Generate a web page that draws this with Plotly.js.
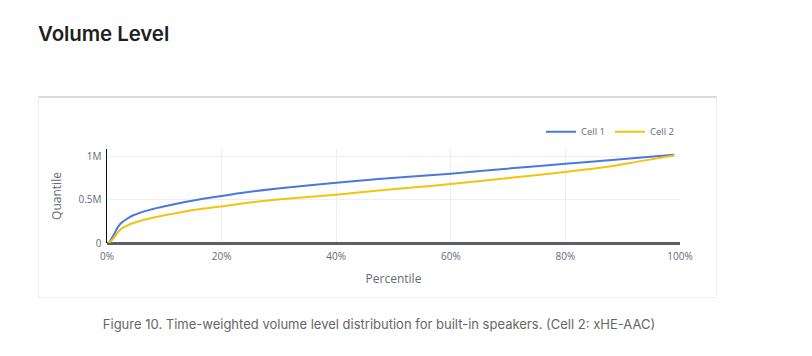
<!DOCTYPE html>
<html>
<head>
<meta charset="utf-8">
<script src="https://cdn.plot.ly/plotly-3.0.1.min.js"></script>
<style>
  html, body { margin: 0; padding: 0; background: #fff; }
  body { width: 812px; height: 356px; position: relative; overflow: hidden; font-family: Inter, "Noto Sans", sans-serif; }
  h2 { position: absolute; left: 38px; top: 21px; margin: 0; font-size: 20.5px; font-weight: 600; color: #1f1f1f; letter-spacing: -0.1px; }
  #box { position: absolute; left: 38px; top: 96px; width: 679px; height: 202px; border: 1px solid #efefef; border-top: 2px solid #dcdcdc; box-sizing: border-box; }
  #chart { position: absolute; left: 0; top: 0; width: 677px; height: 199px; }
  #cap { position: absolute; left: 38px; width: 682px; top: 316px; text-align: center; font-size: 13px; color: #666; }
</style>
</head>
<body>
<h2>Volume Level</h2>
<div id="box"><div id="chart"></div></div>
<div id="cap">Figure 10. Time-weighted volume level distribution for built-in speakers. (Cell 2: xHE-AAC)</div>
<script>
const percentile1 = [0.003, 0.012, 0.018, 0.023, 0.035, 0.046, 0.076, 0.105, 0.134, 0.163, 0.197, 0.24, 0.298, 0.40, 0.474, 0.533, 0.60, 0.698, 0.80, 0.902, 0.99];
const cell1 = [0, 96000, 173000, 220000, 280000, 320000, 385000, 430000, 470000, 505000, 540000, 583000, 630000, 695000, 740000, 768000, 800000, 858000, 915000, 970000, 1020000];
const percentile2 = [0.003, 0.012, 0.018, 0.023, 0.035, 0.046, 0.076, 0.105, 0.134, 0.163, 0.197, 0.24, 0.298, 0.40, 0.474, 0.533, 0.60, 0.698, 0.80, 0.873, 0.931, 0.99];
const cell2 = [0, 58000, 115000, 154000, 200000, 230000, 285000, 325000, 362000, 392000, 420000, 460000, 502000, 558000, 605000, 640000, 680000, 748000, 820000, 880000, 945000, 1010000];
const seriesNames = ["Cell 1", "Cell 2"];
const yTickVals = [0, 500000, 1000000];
const yTickText = ["0", "0.5M", "1M"];

const traces = [
  { x: percentile1, y: cell1, name: seriesNames[0], mode: "lines", type: "scatter", line: { color: "#4a78dc", width: 2, shape: "spline", smoothing: 0.8 } },
  { x: percentile2, y: cell2, name: seriesNames[1], mode: "lines", type: "scatter", line: { color: "#f2c40c", width: 2, shape: "spline", smoothing: 0.8 } }
];

const layout = {
  width: 677, height: 199,
  margin: { l: 68, r: 36, t: 51, b: 54 },
  paper_bgcolor: "#fff", plot_bgcolor: "#fff",
  font: { family: "Open Sans, sans-serif", size: 10, color: "#5f6b7a" },
  showlegend: true,
  legend: { orientation: "h", x: 1.0, xanchor: "right", y: 1.03, yanchor: "bottom", font: { size: 9.5, color: "#5f6b7a" }, bgcolor: "rgba(0,0,0,0)" },
  xaxis: {
    range: [0, 1], tickformat: ".0%", tickvals: [0, 0.2, 0.4, 0.6, 0.8, 1],
    showgrid: true, gridcolor: "#eeeeee", zeroline: false,
    showline: false, ticks: "", ticklabelstandoff: 6,
    title: { text: "Percentile", font: { size: 12, color: "#5f6b7a" }, standoff: 12 }
  },
  yaxis: {
    range: [0, 1085000], tickvals: yTickVals, ticktext: yTickText,
    showgrid: true, gridcolor: "#eeeeee",
    zeroline: true, zerolinecolor: "#5d5f66", zerolinewidth: 3,
    showline: true, linecolor: "#111", linewidth: 1.5, ticks: "", ticklabelstandoff: 2,
    title: { text: "Quantile", font: { size: 12, color: "#5f6b7a" }, standoff: 14 }
  }
};

Plotly.newPlot("chart", traces, layout, { displayModeBar: false, staticPlot: true });
</script>
</body>
</html>
